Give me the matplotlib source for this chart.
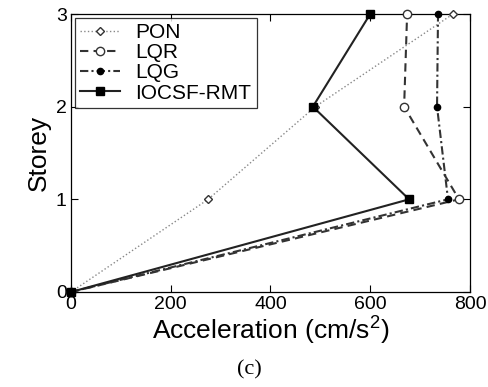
import matplotlib
matplotlib.use("Agg")
import matplotlib.pyplot as plt

plt.rcParams['font.family'] = ['Liberation Sans', 'DejaVu Sans']
plt.rcParams['mathtext.default'] = 'regular'

storeys = [0, 1, 2, 3]
pon = [0, 275, 490, 766]
lqr = [0, 778, 668, 674]
lqg = [0, 756, 734, 736]
iocsf = [0, 678, 485, 600]

x_ticks = [0, 200, 400, 600, 800]
y_ticks = [0, 1, 2, 3]

fig = plt.figure(figsize=(4.88, 3.87), dpi=100)
ax = fig.add_axes([0.1455, 0.2455, 0.8175, 0.7183])

ax.plot(pon, storeys, color='#888888', linestyle=':', lw=1.0, marker='D', ms=4.5,
        mfc='white', mec='#333333', mew=1.0, label='PON', clip_on=False, zorder=3)
ax.plot(lqr, storeys, color='#333333', linestyle=(0, (4, 2.5)), lw=1.5, marker='o', ms=6,
        mfc='white', mec='#333333', mew=1.0, label='LQR', clip_on=False, zorder=3)
ax.plot(lqg, storeys, color='#333333', linestyle=(0, (4, 1.5, 1, 1.5)), lw=1.5, marker='o', ms=4.5,
        mfc='black', mec='black', label='LQG', clip_on=False, zorder=3)
ax.plot(iocsf, storeys, color='#222222', linestyle='-', lw=1.5, marker='s', ms=6,
        mfc='black', mec='black', label='IOCSF-RMT', clip_on=False, zorder=4)

ax.set_xlim(0, 800)
ax.set_ylim(0, 3)
ax.set_xticks(x_ticks)
ax.set_yticks(y_ticks)
ax.tick_params(direction='in', top=True, right=True, labelsize=14, length=5, width=0.8, pad=3)
for s in ax.spines.values():
    s.set_linewidth(0.9)

ax.set_xlabel('Acceleration (cm/s$^{2}$)', fontsize=19, labelpad=1)
ax.set_ylabel('Storey', fontsize=19, labelpad=4)

leg = ax.legend(loc='upper left', fontsize=15, frameon=True, fancybox=False,
                edgecolor='black', handlelength=1.9, handletextpad=0.75,
                borderaxespad=0.2, labelspacing=0.05, borderpad=0.25)
leg.get_frame().set_linewidth(0.9)

fig.text(0.512, 0.02, '(c)', fontsize=16, family='Liberation Serif', ha='center', va='bottom')

fig.savefig('out.png', dpi=100)
